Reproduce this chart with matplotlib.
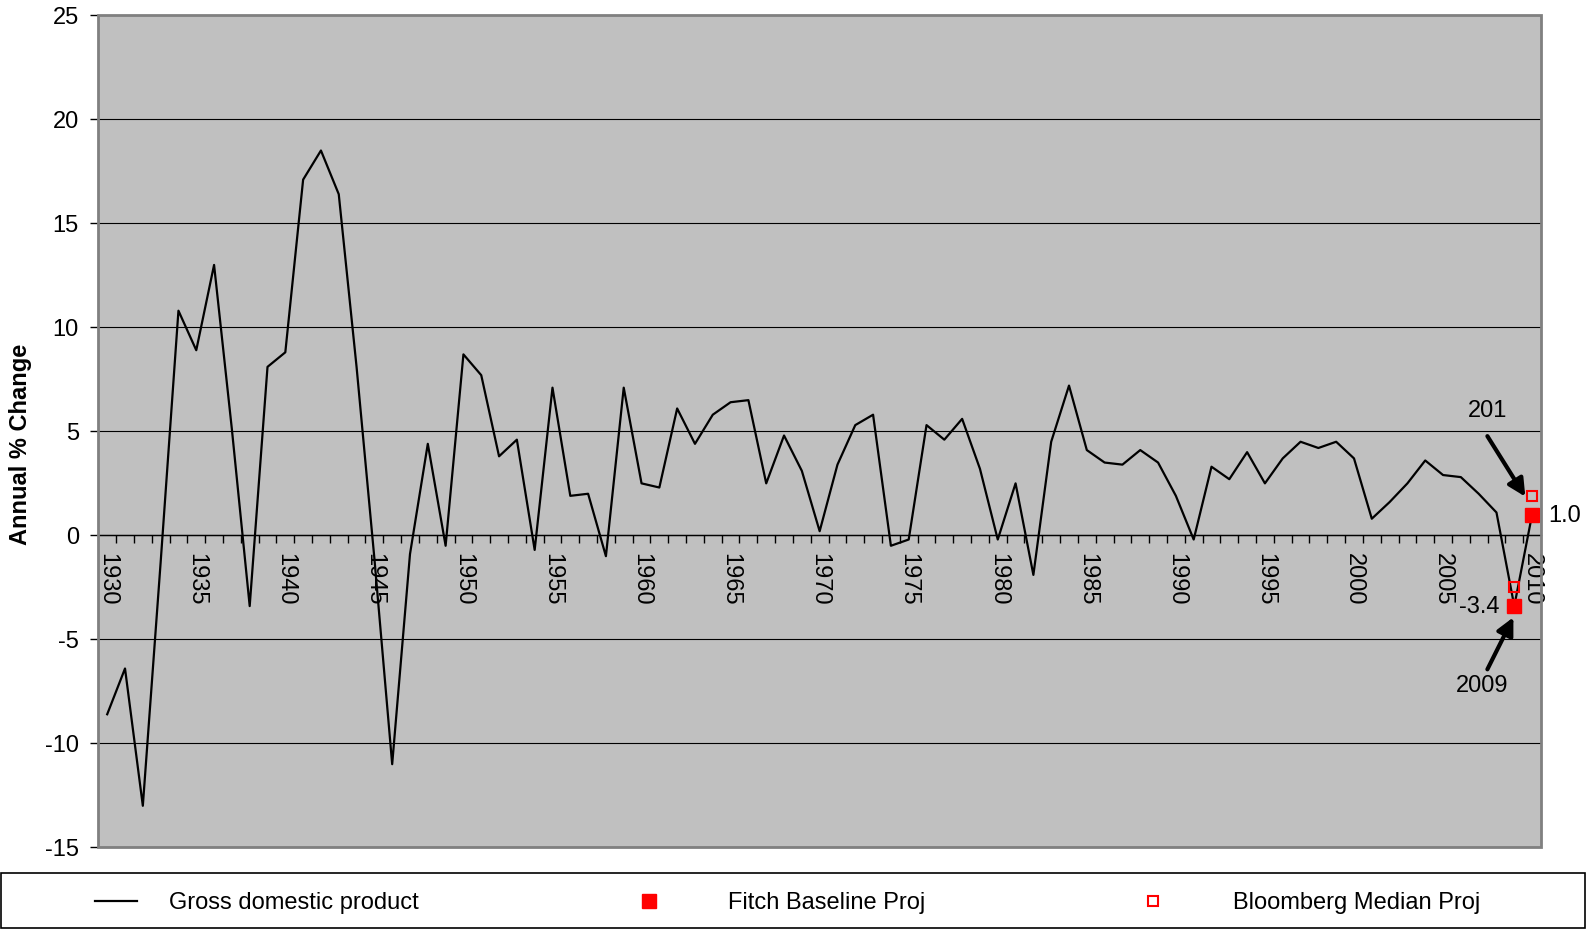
import matplotlib
matplotlib.use('Agg')
import matplotlib.pyplot as plt
from matplotlib.patches import Rectangle
from matplotlib.lines import Line2D

plt.rcParams['font.family'] = ['Liberation Sans', 'DejaVu Sans']

years = list(range(1930, 2011))
gdp = [-8.6, -6.4, -13.0, -1.3, 10.8, 8.9, 13.0, 5.1, -3.4, 8.1,
       8.8, 17.1, 18.5, 16.4, 8.1, -1.1, -11.0, -0.9, 4.4, -0.5,
       8.7, 7.7, 3.8, 4.6, -0.7, 7.1, 1.9, 2.0, -1.0, 7.1,
       2.5, 2.3, 6.1, 4.4, 5.8, 6.4, 6.5, 2.5, 4.8, 3.1,
       0.2, 3.4, 5.3, 5.8, -0.5, -0.2, 5.3, 4.6, 5.6, 3.2,
       -0.2, 2.5, -1.9, 4.5, 7.2, 4.1, 3.5, 3.4, 4.1, 3.5,
       1.9, -0.2, 3.3, 2.7, 4.0, 2.5, 3.7, 4.5, 4.2, 4.5,
       3.7, 0.8, 1.6, 2.5, 3.6, 2.9, 2.8, 2.0, 1.1]
proj_years = [2009, 2010]
fitch = [-3.4, 1.0]
bloomberg = [-2.5, 1.9]
yticks = [-15, -10, -5, 0, 5, 10, 15, 20, 25]
labels = ['Gross domestic product', 'Fitch Baseline Proj', 'Bloomberg Median Proj']

FS = 17
W, H = 1595, 930
fig = plt.figure(figsize=(W / 100, H / 100), dpi=100)
fig.patch.set_facecolor('white')
left, right, top, bottom = 98.3, 1541, 15.3, 847.4
ax = fig.add_axes([left / W, 1 - bottom / H, (right - left) / W, (bottom - top) / H])
ax.set_facecolor('#C0C0C0')

idx = [y - years[0] for y in years]
line_idx = [y - years[0] for y in years[:len(gdp)] + proj_years]
ax.plot(line_idx, gdp + fitch, color='black', lw=1.6, zorder=3)
pidx = [y - years[0] for y in proj_years]
ax.plot(pidx, fitch, ls='none', marker='s', ms=9.6, mfc='#FF0000', mec='#FF0000', zorder=5)
ax.plot(pidx, bloomberg, ls='none', marker='s', ms=7.0, mfc='none', mec='#FF0000', mew=1.5, zorder=5)

ax.set_xlim(-0.5, len(years) - 0.5)
ax.set_ylim(-15, 25)
ax.set_yticks(yticks)
ax.set_yticklabels([str(v) for v in yticks], fontsize=FS)
ax.tick_params(axis='y', direction='out', length=6, width=1, color='black', pad=8)
ax.yaxis.grid(True, color='black', lw=0.8)
ax.set_axisbelow(True)

# category axis at zero
ax.spines['bottom'].set_position(('data', 0))
ax.spines['bottom'].set_color('black')
ax.spines['bottom'].set_linewidth(1)
ax.spines['bottom'].set_zorder(2.5)
for s in ['top', 'right', 'left']:
    ax.spines[s].set_visible(False)
ax.add_patch(Rectangle((0, 0), 1, 1, transform=ax.transAxes, fill=False,
                       edgecolor='#808080', lw=2, zorder=6, clip_on=False))
ax.set_xticks([i - 0.5 for i in range(1, len(years))])
ax.set_xticklabels([])
ax.tick_params(axis='x', which='major', direction='out', length=6, width=1, color='black')
ax.set_xticks(idx[::5], minor=True)
ax.set_xticklabels([str(y) for y in years[::5]], minor=True, rotation=-90, fontsize=FS)
ax.tick_params(axis='x', which='minor', length=0, pad=13)

# labels and annotations
ax.text(80.88, 0.93, '1.0', fontsize=FS, ha='left', va='center', clip_on=False)
ax.text(78.16, -3.43, '-3.4', fontsize=FS, ha='right', va='center')
ax.text(77.49, 5.98, '201', fontsize=FS, ha='center', va='center')
ax.text(77.22, -7.25, '2009', fontsize=FS, ha='center', va='center')
arrow = dict(arrowstyle='-|>', color='black', lw=3, mutation_scale=26, shrinkA=0, shrinkB=0)
ax.annotate('', xy=(79.62, 1.86), xytext=(77.49, 4.77), arrowprops=arrow)
ax.annotate('', xy=(78.95, -3.94), xytext=(77.49, -6.44), arrowprops=arrow)

fig.text(21 / W, 1 - 444 / H, 'Annual % Change', rotation=90, fontsize=FS, fontweight='bold',
         ha='center', va='center')

# legend (drawn in figure coordinates)
fig.patches.append(Rectangle((0.5 / W, 1 - 928 / H), 1584 / W, 55 / H, transform=fig.transFigure,
                             fill=False, edgecolor='black', lw=1.2))
ly = 1 - 901 / H
ty = 1 - 903 / H
fig.lines.append(Line2D([95 / W, 137 / W], [ly, ly], transform=fig.transFigure, color='black', lw=1.6))
fig.lines.append(Line2D([649 / W], [ly], transform=fig.transFigure, ls='none', marker='s', ms=9.6,
                        mfc='#FF0000', mec='#FF0000'))
fig.lines.append(Line2D([1153 / W], [ly], transform=fig.transFigure, ls='none', marker='s', ms=7.0,
                        mfc='none', mec='#FF0000', mew=1.5))
for xpos, lab in zip([169, 728, 1233], labels):
    fig.text(xpos / W, ty, lab, fontsize=FS, ha='left', va='center')

fig.savefig('out.png', dpi=100)
